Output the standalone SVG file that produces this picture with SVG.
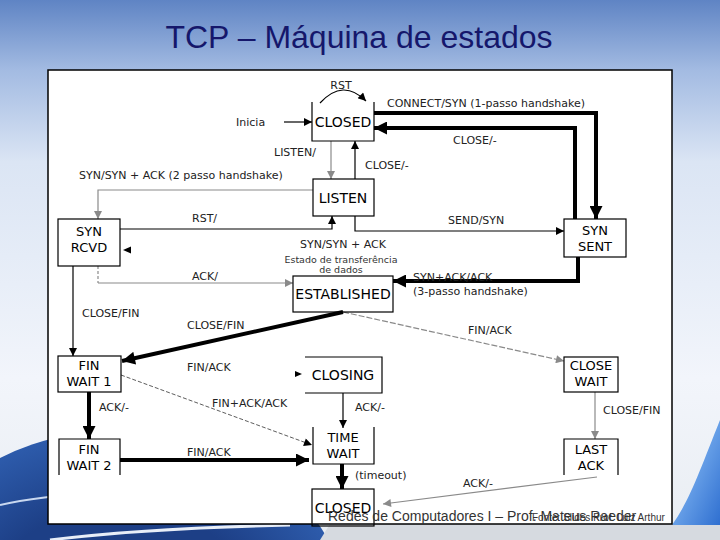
<svg xmlns="http://www.w3.org/2000/svg" width="720" height="540" viewBox="0 0 720 540">
<defs>
<linearGradient id="bg" x1="0" y1="0" x2="0" y2="1">
<stop offset="0" stop-color="#5f84c4"/>
<stop offset="0.13" stop-color="#a3bbe2"/>
<stop offset="0.3" stop-color="#dbe5f4"/>
<stop offset="0.7" stop-color="#f2f5fb"/>
<stop offset="1" stop-color="#e9edf2"/>
</linearGradient>
<linearGradient id="glow" x1="0" y1="0" x2="1" y2="1">
<stop offset="0" stop-color="#9fd0ff"/>
<stop offset="1" stop-color="#2f6fd0"/>
</linearGradient>
<radialGradient id="globe" cx="0.5" cy="0.5" r="0.5">
<stop offset="0.6" stop-color="#1d3f86"/>
<stop offset="1" stop-color="#2d5bab"/>
</radialGradient>
<marker id="ab" viewBox="0 0 10 10" refX="10" refY="5" markerWidth="10" markerHeight="8" markerUnits="userSpaceOnUse" orient="auto"><path d="M0,0 L10,5 L0,10 z" fill="#000"/></marker>
<marker id="ag" viewBox="0 0 10 10" refX="10" refY="5" markerWidth="10" markerHeight="8" markerUnits="userSpaceOnUse" orient="auto"><path d="M0,0 L10,5 L0,10 z" fill="#8a8a8a"/></marker>
<marker id="at" viewBox="0 0 10 10" refX="10" refY="5" markerWidth="16" markerHeight="13" markerUnits="userSpaceOnUse" orient="auto"><path d="M0,0 L10,5 L0,10 z" fill="#000"/></marker>
<style>
.box{fill:none;stroke:#000;stroke-width:1.2}
.nt{font-family:"DejaVu Sans",sans-serif;font-size:14px;fill:#000;text-anchor:middle}
.n2{font-family:"DejaVu Sans",sans-serif;font-size:13px;fill:#000;text-anchor:middle}
.lb{font-family:"DejaVu Sans",sans-serif;font-size:11px;fill:#222}
.sm{font-family:"DejaVu Sans",sans-serif;font-size:9.5px;fill:#333;text-anchor:middle}
.thin{fill:none;stroke:#000;stroke-width:1.2}
.gray{fill:none;stroke:#8a8a8a;stroke-width:1.2}
.thick{fill:none;stroke:#000;stroke-width:4}
</style>
</defs>
<rect x="0" y="0" width="720" height="540" fill="url(#bg)"/>
<ellipse cx="120" cy="620" rx="230" ry="190" fill="url(#globe)"/>
<path d="M50,540 C120,531 200,527 290,525" fill="none" stroke="#e8eef8" stroke-width="3"/>
<path d="M0,505 C20,500 40,498 48,497" fill="none" stroke="#c9d8f0" stroke-width="2"/>
<path d="M330,524 L720,524 L720,540 L320,540 z" fill="#d6dae0"/>
<path d="M720,420 L720,525 L672,525 C690,500 700,470 720,420 z" fill="url(#glow)"/>
<text x="359" y="48" font-family="'Liberation Sans',Arial,sans-serif" font-size="32" fill="#15176b" text-anchor="middle">TCP – Máquina de estados</text>
<rect x="48" y="70" width="624" height="454" fill="#fff" stroke="#000" stroke-width="1.5"/>

<g id="connectors">
<path class="thin" d="M320,103 Q343,78 366,101" stroke="#333" marker-end="url(#ab)"/>
<line class="thin" x1="284" y1="122" x2="312" y2="122" marker-end="url(#ab)"/>
<polyline class="thick" points="374,113 596,113 596,219" marker-end="url(#at)"/>
<polyline class="thick" points="575,219 575,128 374,128" marker-end="url(#at)"/>
<line class="gray" x1="331" y1="141" x2="331" y2="179" marker-end="url(#ag)"/>
<line class="thin" x1="355" y1="179" x2="355" y2="141" marker-end="url(#ab)"/>
<polyline class="gray" points="313,190 98,190 98,219" marker-end="url(#ag)"/>
<polyline class="thin" points="120,229 332,229 332,216" marker-end="url(#ab)"/>
<polyline class="thin" points="355,216 355,231 564,231" marker-end="url(#ab)"/>
<polygon points="123,250 131,246.5 131,253.5" fill="#000"/>
<line class="gray" x1="98" y1="266" x2="98" y2="283" stroke-dasharray="3,2"/>
<line class="gray" x1="98" y1="283" x2="293" y2="283" marker-end="url(#ag)"/>
<polyline class="thick" points="578,257 578,281 393,281" marker-end="url(#at)"/>
<line class="thin" x1="73" y1="266" x2="73" y2="356" marker-end="url(#ab)"/>
<line class="thick" x1="343" y1="312" x2="122" y2="361" marker-end="url(#at)"/>
<line class="gray" x1="343" y1="312" x2="564" y2="361" stroke-dasharray="6,2" marker-end="url(#ag)"/>
<polygon points="295,371 302,374 295,377" fill="#000"/>
<line x1="121" y1="375" x2="312" y2="445" stroke="#333" stroke-width="0.8" stroke-dasharray="4,2" marker-end="url(#ab)"/>
<line class="thin" x1="343" y1="393" x2="343" y2="428" marker-end="url(#ab)"/>
<line class="thick" x1="89" y1="392" x2="89" y2="439" marker-end="url(#at)"/>
<line class="thick" x1="120" y1="460" x2="309" y2="460" marker-end="url(#at)"/>
<line class="thick" x1="342" y1="464" x2="342" y2="489" marker-end="url(#at)"/>
<line class="gray" x1="595" y1="392" x2="595" y2="439" marker-end="url(#ag)"/>
<line class="gray" x1="597" y1="477" x2="383" y2="504" marker-end="url(#ag)"/>
</g>

<g id="labels">
<text class="lb" x="341" y="89" text-anchor="middle">RST</text>
<text class="lb" x="236" y="126">Inicia</text>
<text class="lb" x="387" y="107">CONNECT/SYN (1-passo handshake)</text>
<text class="lb" x="453" y="144">CLOSE/-</text>
<text class="lb" x="274" y="156">LISTEN/</text>
<text class="lb" x="365" y="169">CLOSE/-</text>
<text class="lb" x="79" y="179">SYN/SYN + ACK (2 passo handshake)</text>
<text class="lb" x="192" y="222">RST/</text>
<text class="lb" x="448" y="224">SEND/SYN</text>
<text class="lb" x="343" y="248" text-anchor="middle">SYN/SYN + ACK</text>
<text class="sm" x="341" y="263">Estado de transferência</text>
<text class="sm" x="341" y="273">de dados</text>
<text class="lb" x="192" y="280">ACK/</text>
<text class="lb" x="413" y="281">SYN+ACK/ACK</text>
<text class="lb" x="413" y="295">(3-passo handshake)</text>
<text class="lb" x="82" y="317">CLOSE/FIN</text>
<text class="lb" x="187" y="329">CLOSE/FIN</text>
<text class="lb" x="468" y="334">FIN/ACK</text>
<text class="lb" x="187" y="371">FIN/ACK</text>
<text class="lb" x="212" y="407">FIN+ACK/ACK</text>
<text class="lb" x="99" y="411">ACK/-</text>
<text class="lb" x="355" y="411">ACK/-</text>
<text class="lb" x="603" y="414">CLOSE/FIN</text>
<text class="lb" x="187" y="456">FIN/ACK</text>
<text class="lb" x="355" y="479">(timeout)</text>
<text class="lb" x="463" y="487">ACK/-</text>
</g>

<g id="closed-top"><path class="box" d="M312,102 V141 H374 V102"/><text class="nt" x="343" y="127">CLOSED</text></g>
<g id="listen"><rect class="box" x="313" y="179" width="61" height="37"/><text class="nt" x="343" y="203">LISTEN</text></g>
<g id="syn-rcvd"><rect class="box" x="58" y="219" width="62" height="47"/><text class="n2" x="89" y="236">SYN</text><text class="n2" x="89" y="252">RCVD</text></g>
<g id="syn-sent"><rect class="box" x="564" y="219" width="62" height="38"/><text class="n2" x="595" y="235">SYN</text><text class="n2" x="595" y="251">SENT</text></g>
<g id="established"><rect class="box" x="293" y="276" width="100" height="36"/><text class="nt" x="343" y="299">ESTABLISHED</text></g>
<g id="fin-wait-1"><rect class="box" x="58" y="356" width="63" height="36"/><text class="n2" x="89" y="370">FIN</text><text class="n2" x="89" y="386">WAIT 1</text></g>
<g id="closing"><path class="box" d="M305,357 H382 V393 H305"/><text class="nt" x="343" y="380">CLOSING</text></g>
<g id="close-wait"><rect class="box" x="564" y="357" width="54" height="35"/><text class="n2" x="591" y="370">CLOSE</text><text class="n2" x="591" y="386">WAIT</text></g>
<g id="fin-wait-2"><path class="box" d="M59,475 V439 H120 V475"/><text class="n2" x="89" y="454">FIN</text><text class="n2" x="89" y="470">WAIT 2</text></g>
<g id="time-wait"><path class="box" d="M313,427 V464 H374 V427"/><text class="n2" x="343" y="442">TIME</text><text class="n2" x="343" y="458">WAIT</text></g>
<g id="last-ack"><path class="box" d="M564,475 V439 H618 V475"/><text class="n2" x="591" y="454">LAST</text><text class="n2" x="591" y="470">ACK</text></g>
<g id="closed-bottom"><rect class="box" x="312" y="489" width="62" height="37"/><text class="nt" x="343" y="513">CLOSED</text></g>

<text x="328" y="521" font-family="'Liberation Sans',Arial,sans-serif" font-size="14" fill="#333">Redes de Computadores I – Prof. Mateus Raeder</text>
<text x="532" y="521" font-family="'Liberation Sans',Arial,sans-serif" font-size="10" fill="#333">Fonte: Slides Prof. Luiz Arthur</text>
</svg>
